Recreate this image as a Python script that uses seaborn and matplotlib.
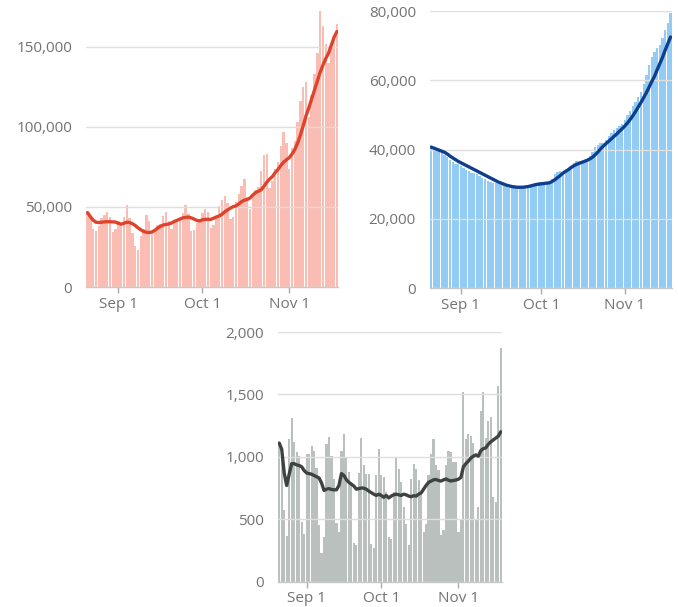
import matplotlib.pyplot as plt
import numpy as np
import pandas as pd
import seaborn as sns
from matplotlib.ticker import FuncFormatter

sns.set_theme(style='white')
plt.rcParams['font.family'] = ['Open Sans', 'DejaVu Sans']

dates = pd.date_range('2020-08-21', '2020-11-18')
tick_dates = pd.to_datetime(['2020-09-01', '2020-10-01', '2020-11-01'])
tick_labels = ['Sep 1', 'Oct 1', 'Nov 1']

cases = [
    46000, 44000, 36000, 35000, 38000, 43000, 45000, 47000, 44000, 34500,
    36500, 41000, 40000, 44000, 51500, 43000, 34000, 25500, 23000, 32000,
    36000, 45000, 41500, 35000, 35500, 38500, 39500, 44500, 47000, 41500,
    36500, 41500, 40500, 42000, 46500, 51000, 45500, 35000, 35500, 40000,
    42500, 46000, 49000, 47000, 37000, 38500, 43000, 50500, 54500, 57000,
    52500, 42500, 44000, 53000, 58000, 63000, 67500, 56000, 48500, 57500,
    60500, 62500, 72500, 82500, 83000, 62000, 66500, 74000, 78000, 88000,
    96500, 90000, 73500, 86500, 91000, 103000, 116000, 125000, 128000, 106000,
    120000, 133000, 146000, 172000, 163000, 152000, 140000, 150000, 157000, 164000,
]
cases_avg = [
    46500, 44000, 41800, 40500, 40300, 40500, 40700, 40800, 40800, 40700,
    40600, 39800, 39300, 39800, 40500, 40300, 39600, 38500, 37000, 35800,
    34800, 34200, 34000, 34400, 35400, 36800, 37900, 38700, 39100, 39400,
    40000, 41000, 41700, 42500, 43200, 43500, 43700, 43200, 42500, 41600,
    41300, 42000, 42300, 42300, 42300, 43000, 43800, 44400, 45500, 47000,
    48200, 49300, 50200, 50700, 52000, 53300, 54300, 54700, 55600, 57500,
    59000, 59800, 60800, 63000, 65500, 67500, 69000, 71500, 73500, 76000,
    78000, 79500, 80800, 83000, 86000, 90000, 95000, 101000, 107000, 112000,
    117500, 123000, 128500, 134000, 138500, 142500, 146000, 151000, 156000, 159500,
]

hosp = [
    40600, 40100, 39800, 39900, 39200, 38500, 37700, 37000, 36300, 35900,
    35700, 35200, 34700, 34200, 33700, 33200, 33100, 32900, 32500, 31900,
    31400, 30900, 30500, 30300, 30300, 30100, 29700, 29400, 29100, 28900,
    28800, 29100, 29200, 29000, 28900, 28800, 28900, 29300, 29800, 30300,
    30600, 30500, 30200, 30100, 30500, 31600, 32800, 33500, 33900, 33600,
    33500, 34100, 35000, 36000, 36600, 36700, 36500, 36600, 37200, 38200,
    39400, 40600, 41300, 41800, 42000, 42800, 43900, 44900, 45700, 46200,
    46800, 47500, 48500, 50000, 51200, 52600, 53800, 55100, 56600, 59000,
    61500, 64500, 66600, 68200, 69300, 70200, 72100, 74500, 76500, 79500,
]
hosp_avg = [
    40700, 40400, 40100, 39800, 39500, 39200, 38700, 38100, 37600, 37100,
    36600, 36200, 35800, 35400, 35000, 34600, 34200, 33800, 33400, 33000,
    32600, 32200, 31800, 31400, 31000, 30600, 30300, 30000, 29700, 29500,
    29300, 29200, 29100, 29100, 29100, 29200, 29300, 29500, 29700, 29900,
    30000, 30100, 30200, 30300, 30400, 30800, 31300, 31900, 32500, 33200,
    33700, 34200, 34800, 35300, 35700, 36000, 36300, 36600, 36900, 37300,
    37800, 38500, 39300, 40200, 41000, 41700, 42400, 43100, 43800, 44500,
    45300, 46000, 46800, 47700, 48700, 49800, 51000, 52300, 53600, 55000,
    56400, 58000, 59600, 61100, 63000, 64800, 66600, 68700, 70600, 72500,
]

deaths = [
    1100, 990, 571, 361, 1142, 1310, 1120, 1036, 1010, 476,
    383, 1022, 1022, 1083, 1050, 910, 450, 225, 357, 1100,
    1160, 1010, 820, 468, 398, 1045, 1183, 1000, 880, 800,
    310, 290, 867, 1149, 933, 859, 860, 304, 270, 850,
    1062, 850, 840, 720, 360, 340, 720, 996, 903, 800,
    600, 460, 290, 825, 940, 900, 810, 720, 400, 460,
    850, 1020, 1140, 930, 890, 370, 410, 930, 1050, 1040,
    960, 960, 396, 502, 1519, 1140, 1180, 1165, 1110, 490,
    600, 1370, 1520, 1150, 1290, 1320, 674, 640, 1565, 1875,
]
deaths_avg = [
    1110, 1060, 870, 770, 860, 945, 945, 935, 930, 920,
    890, 870, 865, 860, 850, 840, 830, 790, 730, 740,
    745, 738, 735, 735, 770, 865, 850, 815, 795, 780,
    765, 740, 745, 750, 748, 740, 725, 712, 700, 690,
    700, 690, 675, 690, 670, 685, 695, 700, 695, 690,
    700, 695, 685, 680, 688, 685, 700, 710, 740, 770,
    795, 805, 815, 818, 810, 805, 815, 822, 812, 806,
    810, 814, 820, 835, 920, 945, 965, 990, 1005, 1015,
    1005, 1050, 1065, 1072, 1100, 1120, 1135, 1150, 1165, 1200,
]

days = np.asarray((dates - dates[0]).days)
tick_pos = np.asarray((tick_dates - dates[0]).days)

panels = [
    # rect, bars, avg, ymax, yticks, bar colour, line colour
    ([0.127, 0.527, 0.372, 0.462], cases, cases_avg, 175000, [0, 50000, 100000, 150000], '#f9bdb3', '#e0432b'),
    ([0.634, 0.5255, 0.357, 0.4563], hosp, hosp_avg, 80000, [0, 20000, 40000, 60000, 80000], '#92cbf4', '#0e3f8e'),
    ([0.41, 0.042, 0.3304, 0.411], deaths, deaths_avg, 2000, [0, 500, 1000, 1500, 2000], '#b9c0bd', '#3d4343'),
]

fig = plt.figure(figsize=(6.78, 6.07), dpi=100)
text_grey = '#737373'

for rect, bars, avg, ymax, yticks, bar_color, line_color in panels:
    ax = fig.add_axes(rect)
    sns.barplot(x=days, y=bars, native_scale=True, color=bar_color, saturation=1,
                width=0.86, linewidth=0, errorbar=None, ax=ax)
    sns.lineplot(x=days, y=avg, color=line_color, linewidth=2.4, ax=ax)
    ax.lines[-1].set_solid_capstyle('round')
    ax.lines[-1].set_solid_joinstyle('round')

    ax.set_xlim(-0.5, 89.5)
    ax.set_ylim(0, ymax)
    ax.set_yticks(yticks)
    ax.yaxis.set_major_formatter(FuncFormatter(lambda v, p: f'{int(v):,}'))
    ax.set_xticks(tick_pos)
    ax.set_xticklabels(tick_labels)
    ax.set_xlabel('')
    ax.set_ylabel('')

    ax.set_axisbelow('line')
    ax.yaxis.grid(True, color='#dedede', linewidth=1)
    ax.xaxis.grid(False)
    for side in ['left', 'top', 'right']:
        ax.spines[side].set_visible(False)
    ax.spines['bottom'].set_color('#c8c8c8')
    ax.spines['bottom'].set_linewidth(1)

    ax.tick_params(axis='y', length=0, pad=10, labelsize=11, labelcolor=text_grey)
    ax.tick_params(axis='x', length=4, width=1, color='#aaaaaa', pad=3,
                   labelsize=11, labelcolor=text_grey, bottom=True)

fig.savefig('out.png', dpi=100, facecolor='white')
